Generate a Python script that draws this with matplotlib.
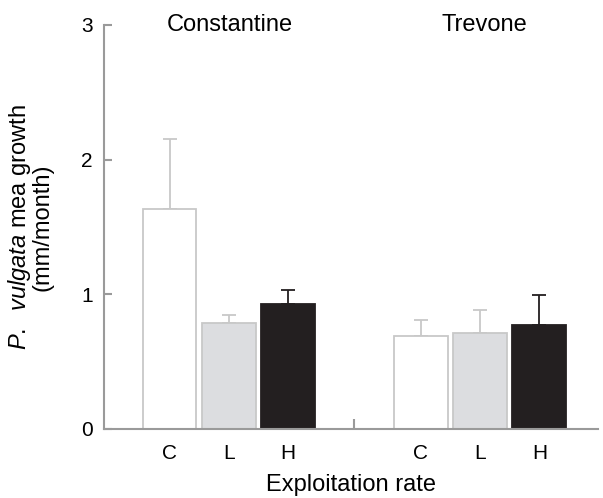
import matplotlib
matplotlib.use("Agg")
import matplotlib.pyplot as plt
import numpy as np

plt.rcParams['font.family'] = ['Liberation Sans', 'DejaVu Sans']
plt.rcParams['mathtext.fontset'] = 'custom'
plt.rcParams['mathtext.rm'] = 'Liberation Sans'
plt.rcParams['mathtext.it'] = 'Liberation Sans:italic'
plt.rcParams['xtick.labelsize'] = 15
plt.rcParams['ytick.labelsize'] = 15

sites = ['Constantine', 'Trevone']
rates = ['C', 'L', 'H']
# mean growth and upper error (mm/month)
constantine = [1.63, 0.79, 0.93]
constantine_err = [0.52, 0.06, 0.105]
trevone = [0.69, 0.71, 0.77]
trevone_err = [0.12, 0.175, 0.225]

fills = ['white', '#dcdde0', '#231f20']
edges = ['#c8c8c8', '#c8c8c8', '#231f20']
gray = '#9a9a9a'

fig = plt.figure(figsize=(6.03, 4.98), dpi=100)
ax = fig.add_axes([0.1725, 0.1386, 0.8192, 0.8112])

x1 = np.arange(3)
x2 = x1 + 4.24
for xs, vals, errs in [(x1, constantine, constantine_err), (x2, trevone, trevone_err)]:
    for i in range(3):
        ax.bar(xs[i], vals[i], width=0.91, color=fills[i], edgecolor=edges[i],
               linewidth=1.3, zorder=2)
        ax.errorbar(xs[i], vals[i], yerr=[[0], [errs[i]]], fmt='none',
                    ecolor=edges[i], elinewidth=1.3, capsize=5, capthick=1.3, zorder=1)

ax.set_xlim(-1.105, 7.23)
ax.set_ylim(0, 3)
ax.set_yticks([0, 1, 2, 3])
ax.set_xticks(list(x1) + list(x2))
ax.set_xticklabels(rates + rates, fontsize=15)
ax.set_yticklabels(['0', '1', '2', '3'], fontsize=15)
ax.set_xticks([3.12], minor=True)

for s in ['top', 'right']:
    ax.spines[s].set_visible(False)
for s in ['left', 'bottom']:
    ax.spines[s].set_color(gray)
    ax.spines[s].set_linewidth(1.5)

ax.tick_params(axis='y', direction='in', length=5.5, width=1.5, color=gray, pad=8)
ax.tick_params(axis='x', which='major', length=0, pad=11)
ax.tick_params(axis='x', which='minor', direction='in', length=7, width=1.5, color=gray)

ax.text(1.02, 3.0, sites[0], ha='center', va='center', fontsize=17)
ax.text(5.32, 3.0, sites[1], ha='center', va='center', fontsize=17)

ax.set_xlabel('Exploitation rate', fontsize=17, labelpad=8)
ax.set_ylabel(r'$\mathit{P.\ \ vulgata}$ mea growth' + '\n(mm/month)',
              fontsize=17, linespacing=0.9)
ax.yaxis.set_label_coords(-0.102, 0.5)

fig.savefig('out.png', dpi=100)
